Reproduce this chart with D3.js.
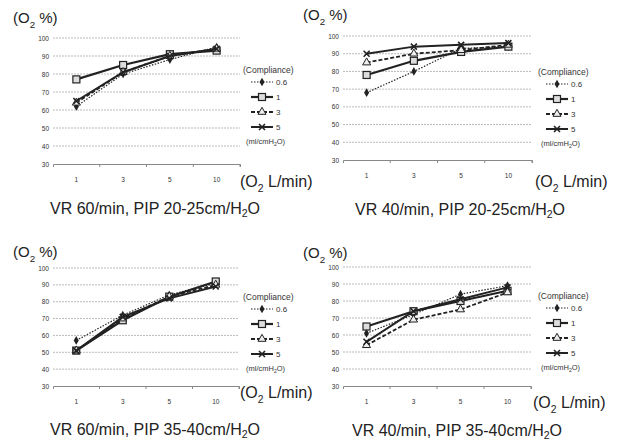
<!DOCTYPE html>
<html>
<head>
<meta charset="utf-8">
<script src="https://cdn.jsdelivr.net/npm/d3@7"></script>
<style>
body { margin: 0; background: #fff; }
text { font-family: "Liberation Sans", Arial, sans-serif; }
</style>
</head>
<body>
<div id="chart-area"></div>
<script>
// categories and values
var flows = ["1", "3", "5", "10"];
var yTicks = [30, 40, 50, 60, 70, 80, 90, 100];
var compliances = ["0.6", "1", "3", "5"];

var titles = [
	["VR 60/min, PIP 20-25cm/H", "O"],
	["VR 40/min, PIP 20-25cm/H", "O"],
	["VR 60/min, PIP 35-40cm/H", "O"],
	["VR 40/min, PIP 35-40cm/H", "O"]
];

// one row per compliance (0.6, 1, 3, 5), one value per O2 flow
var vr60pip20 = [
	[62, 80, 88, 95],
	[77, 85, 91, 93],
	[64, 81, 90, 94],
	[65, 81, 90, 94]
];
var vr40pip20 = [
	[68, 80, 93, 94],
	[78, 86, 91, 94],
	[85, 90, 92, 95],
	[90, 94, 95, 96]
];
var vr60pip35 = [
	[57, 72, 84, 91],
	[51, 69, 83, 92],
	[51, 70, 83, 90],
	[51, 71, 82, 89]
];
var vr40pip35 = [
	[61, 72, 84, 89],
	[65, 74, 80, 86],
	[54, 69, 75, 85],
	[56, 74, 81, 88]
];

var panelData = [vr60pip20, vr40pip20, vr60pip35, vr40pip35];

// layout of the four panels
var panels = [
	{ left: 53, right: 240, top: 38, bottom: 164, yLab: 18, xLab: 182, xLabX: 240, title: 209, titleX: 155, legX: 243, legY: 73 },
	{ left: 343, right: 532, top: 36, bottom: 160, yLab: 15, xLab: 182, xLabX: 535, title: 210, titleX: 460, legX: 538, legY: 75 },
	{ left: 53, right: 239, top: 268, bottom: 386, yLab: 252, xLab: 393, xLabX: 240, title: 430, titleX: 155, legX: 243, legY: 300 },
	{ left: 343, right: 531, top: 267, bottom: 386, yLab: 253, xLab: 403, xLabX: 533, title: 431, titleX: 457, legX: 538, legY: 299 }
];

var styles = [
	{ dash: "1.5,1.5", width: 1.2, marker: "diamond" },
	{ dash: null, width: 2.2, marker: "square" },
	{ dash: "4,2", width: 1.8, marker: "triangle" },
	{ dash: null, width: 2, marker: "cross" }
];

var ink = "#222";

var svg = d3.select("#chart-area")
	.append("svg")
	.attr("width", 618)
	.attr("height", 441);

function drawMarker(g, type, x, y) {
	if (type === "diamond") {
		g.append("path")
			.attr("d", d3.symbol().type(d3.symbolDiamond).size(22)())
			.attr("transform", "translate(" + x + "," + y + ")")
			.attr("fill", ink);
	} else if (type === "square") {
		g.append("rect")
			.attr("x", x - 3.5).attr("y", y - 3.5)
			.attr("width", 7).attr("height", 7)
			.attr("fill", "#ddd").attr("stroke", ink).attr("stroke-width", 1.2);
	} else if (type === "triangle") {
		g.append("path")
			.attr("d", d3.symbol().type(d3.symbolTriangle).size(28)())
			.attr("transform", "translate(" + x + "," + y + ")")
			.attr("fill", "#eee").attr("stroke", ink).attr("stroke-width", 1);
	} else {
		g.append("path")
			.attr("d", "M-3,-3L3,3M-3,3L3,-3")
			.attr("transform", "translate(" + x + "," + y + ")")
			.attr("stroke", ink).attr("stroke-width", 1.6);
	}
}

function o2Text(g, x, y, before, after, size, anchor) {
	var t = g.append("text")
		.attr("x", x).attr("y", y)
		.attr("font-size", size + "px")
		.attr("fill", ink)
		.attr("text-anchor", anchor || "start");
	t.append("tspan").text(before);
	t.append("tspan").attr("dy", size * 0.3).attr("font-size", (size * 0.65) + "px").text("2");
	t.append("tspan").attr("dy", -size * 0.3).text(after);
	return t;
}

panels.forEach(function (p, i) {
	var g = svg.append("g");
	var data = panelData[i];

	var xBand = d3.scaleBand().domain(flows).range([p.left, p.right]);
	var xScale = d3.scalePoint().domain(flows).range([p.left, p.right]).padding(0.5);
	var yScale = d3.scaleLinear().domain([30, 100]).range([p.bottom, p.top]);

	// gridlines
	g.selectAll(".grid")
		.data(yTicks.slice(1))
		.enter().append("line")
		.attr("x1", p.left).attr("x2", p.right)
		.attr("y1", d => yScale(d)).attr("y2", d => yScale(d))
		.attr("stroke", "#aaa")
		.attr("stroke-width", 0.8)
		.attr("stroke-dasharray", "2,1");

	// y axis labels
	var yAxis = d3.axisLeft(yScale).tickValues(yTicks).tickSize(0).tickPadding(4);
	var yAxisG = g.append("g")
		.attr("transform", "translate(" + p.left + ",0)")
		.call(yAxis);
	yAxisG.select(".domain").remove();
	yAxisG.selectAll("text")
		.attr("font-size", "6.5px")
		.attr("font-family", "Liberation Serif, serif")
		.attr("fill", "#333");

	// x axis
	var xAxisG = g.append("g")
		.attr("transform", "translate(0," + p.bottom + ")")
		.call(d3.axisBottom(xBand).tickSize(3).tickPadding(10));
	xAxisG.select(".domain").attr("stroke", "#888");
	xAxisG.selectAll(".tick line")
		.attr("transform", "translate(" + (xBand.bandwidth() / 2) + ",0)")
		.attr("stroke", "#888");
	xAxisG.selectAll("text")
		.attr("font-size", "6.5px")
		.attr("font-family", "Liberation Serif, serif")
		.attr("fill", "#333");

	// series
	var line = d3.line()
		.x((d, j) => xScale(flows[j]))
		.y(d => yScale(d));

	data.forEach(function (vals, k) {
		var s = styles[k];
		g.append("path")
			.datum(vals)
			.attr("d", line)
			.attr("fill", "none")
			.attr("stroke", ink)
			.attr("stroke-width", s.width)
			.attr("stroke-dasharray", s.dash);
		vals.forEach(function (v, j) {
			drawMarker(g, s.marker, xScale(flows[j]), yScale(v));
		});
	});

	// legend
	g.append("text")
		.attr("x", p.legX).attr("y", p.legY)
		.attr("font-size", "8.5px")
		.attr("fill", "#333")
		.text("(Compliance)");
	compliances.forEach(function (c, k) {
		var s = styles[k];
		var ly = p.legY + 9 + k * 15;
		var lg = g.append("g");
		lg.append("line")
			.attr("x1", p.legX + 8).attr("x2", p.legX + 30)
			.attr("y1", ly).attr("y2", ly)
			.attr("stroke", ink)
			.attr("stroke-width", s.width)
			.attr("stroke-dasharray", s.dash);
		drawMarker(lg, s.marker, p.legX + 19, ly);
		lg.append("text")
			.attr("x", p.legX + 33).attr("y", ly + 3)
			.attr("font-size", "8px")
			.attr("fill", "#333")
			.text(c);
	});
	var unit = g.append("text")
		.attr("x", p.legX + 3).attr("y", p.legY + 71)
		.attr("font-size", "7.5px")
		.attr("fill", "#333");
	unit.append("tspan").text("(ml/cmH");
	unit.append("tspan").attr("dy", 1.5).attr("font-size", "5px").text("2");
	unit.append("tspan").attr("dy", -1.5).text("O)");

	// axis titles
	o2Text(g, p.left - 40, p.yLab + 5, "(O", " %)", 15);
	o2Text(g, p.xLabX, p.xLab + 5, "(O", " L/min)", 16);

	// panel title
	var t = g.append("text")
		.attr("x", p.titleX).attr("y", p.title + 5)
		.attr("font-size", "16px")
		.attr("fill", ink)
		.attr("text-anchor", "middle");
	t.append("tspan").text(titles[i][0]);
	t.append("tspan").attr("dy", 3).attr("font-size", "10.5px").text("2");
	t.append("tspan").attr("dy", -3).text(titles[i][1]);
});
</script>
</body>
</html>
